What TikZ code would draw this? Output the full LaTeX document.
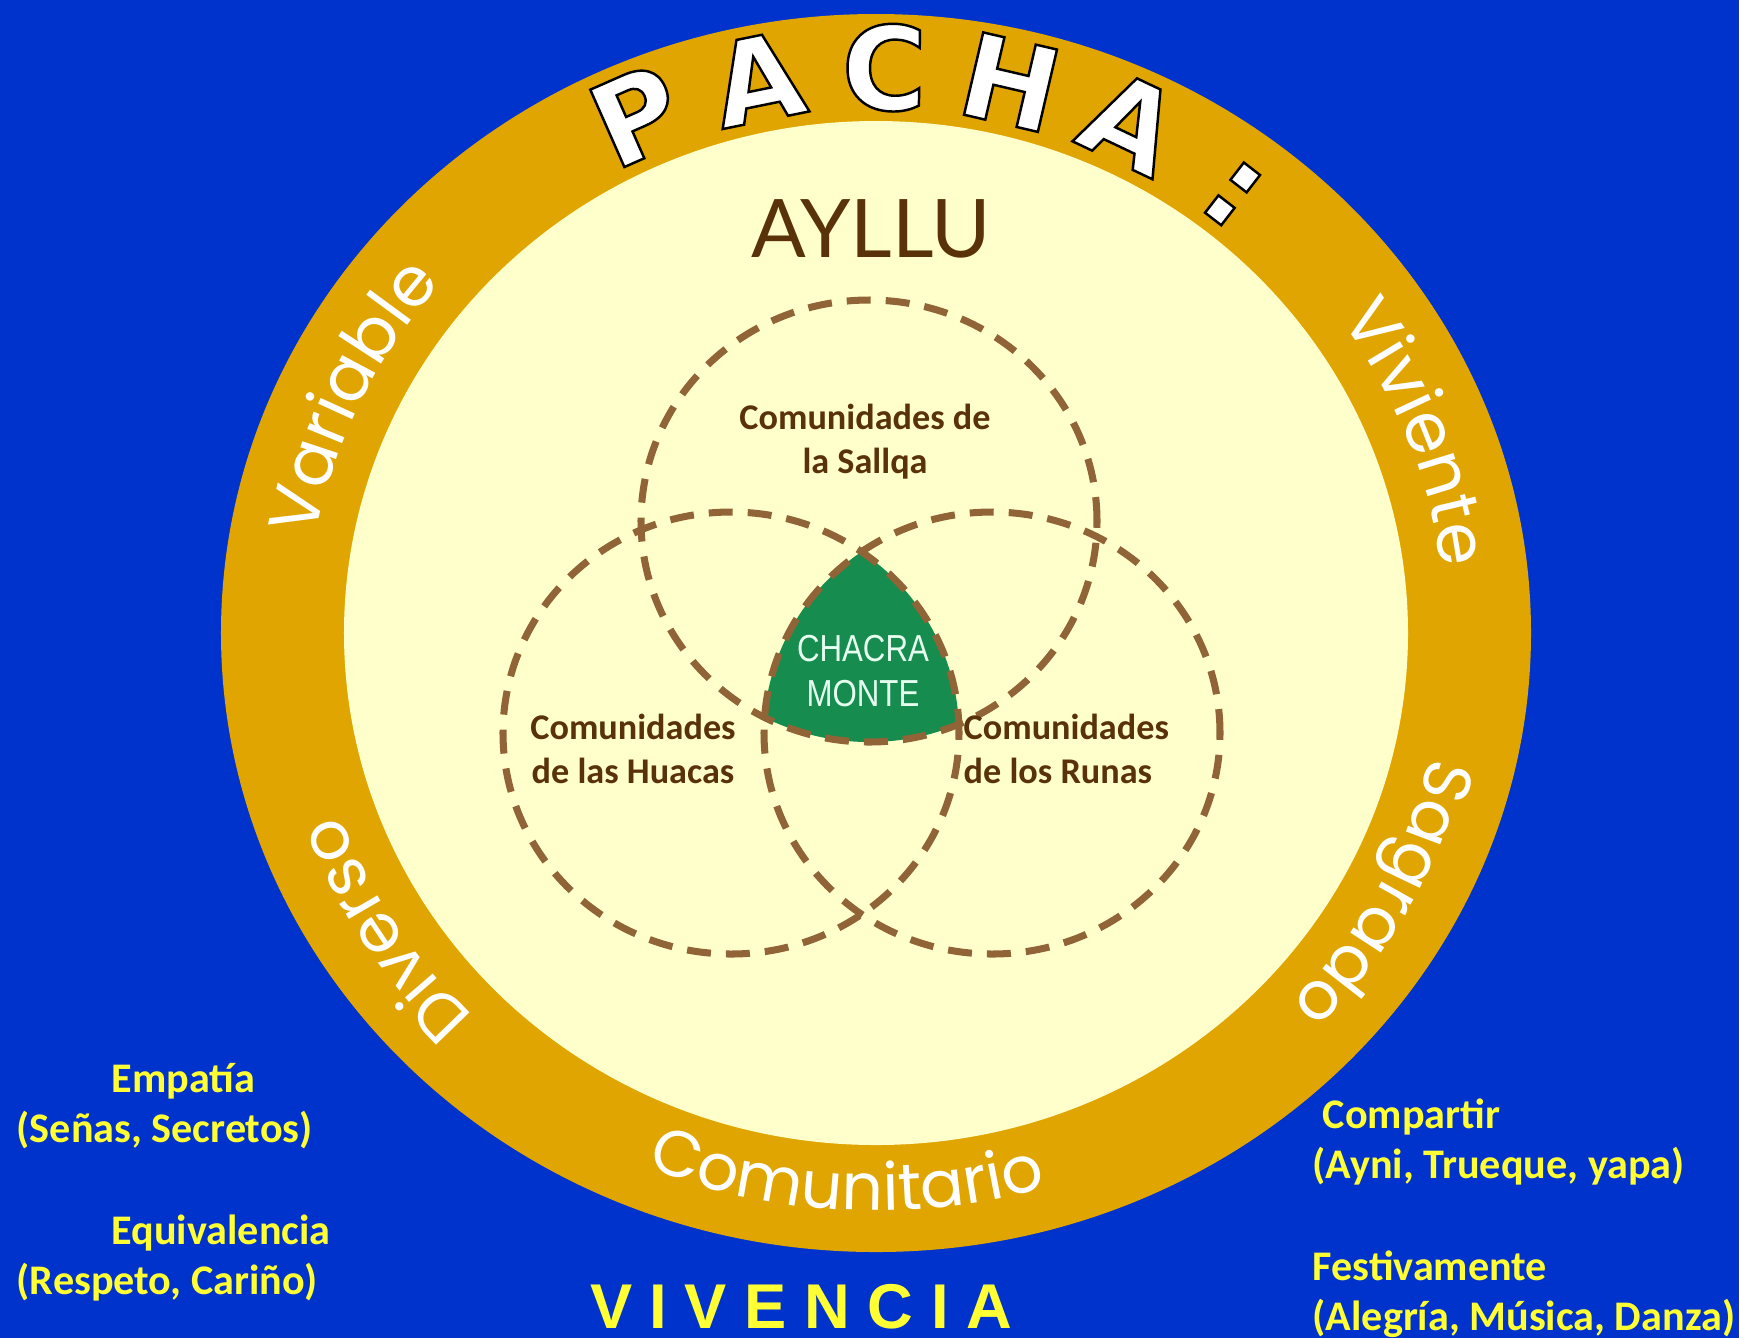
\documentclass[tikz,border=0pt]{standalone}
\usepackage{fontspec}
\usepackage{tikz}
\usetikzlibrary{decorations.text}
\setmainfont{Carlito}
\newfontfamily\ringfont{Poppins}
\newfontfamily\pachafont{DejaVu Sans}
\newfontfamily\capfont{Liberation Sans}
\newfontfamily\narrowfont{Liberation Sans}[FakeStretch=0.83]
\newfontfamily\aylfont{Lato}
\definecolor{bgblue}{RGB}{0,51,204}
\definecolor{gold}{RGB}{224,165,0}
\definecolor{cream}{RGB}{255,255,204}
\definecolor{vennbrown}{RGB}{145,100,55}
\definecolor{labelbrown}{RGB}{90,50,10}
\definecolor{chacragreen}{RGB}{22,140,78}
\definecolor{valyellow}{RGB}{255,255,51}
\definecolor{palemint}{RGB}{230,255,240}
% white letters with a thin black outline
\newcommand{\outlined}[1]{\special{pdf:literal 2 Tr 0.7 w 0 0 0 RG}#1\special{pdf:literal 0 Tr}}

\begin{document}
\begin{tikzpicture}[ringword/.style={decorate,decoration={text along path,text align=center,text color=white}},venn/.style={draw=vennbrown,line width=2pt,dash pattern=on 0.24cm off 0.15cm},comm/.style={text=labelbrown,font=\bfseries\fontsize{10.3}{12.5}\selectfont,align=center,inner sep=0pt},valor/.style={text=valyellow,font=\bfseries\fontsize{12}{14.2}\selectfont,inner sep=0pt,anchor=west,align=left},pacha/.style={text=white,font=\pachafont\bfseries\fontsize{33}{33}\selectfont,inner sep=0pt,text height=24pt,text depth=0pt}]
\def\rxo{6.55};
\def\ryo{6.19};
\def\rxi{5.32};
\def\ryi{5.12};
\def\vrx{2.28};
\def\vry{2.21};

\useasboundingbox (-8.76,-7.05) rectangle (8.63,6.33);
\fill[bgblue] (-8.76,-7.05) rectangle (8.63,6.33);

% pacha ring and ayllu
\fill[gold] (0,0) ellipse [x radius=\rxo, y radius=\ryo];
\fill[cream] (0,0) ellipse [x radius=\rxi, y radius=\ryi];

\foreach \l [count=\i from 0] in {P,A,C,H,A,:} {
  \pgfmathsetmacro\ang{113.8-12.3*\i}
  \node[pacha,rotate=\ang-90] (P\i) at (\ang:5.935 and 5.655) {\outlined{\l}};
}

\path[ringword,decoration={text={|\ringfont\fontsize{19.5}{20}\selectfont|Variable}}] (185:5.695 and 5.415) arc[start angle=185,end angle=125,x radius=5.695,y radius=5.415];
\path[ringword,decoration={text={|\ringfont\fontsize{19.5}{20}\selectfont|Viviente}}] (51:5.695 and 5.415) arc[start angle=51,end angle=-9,x radius=5.695,y radius=5.415];
\path[ringword,decoration={text={|\ringfont\fontsize{19}{20}\selectfont|Sagrado}}] (2:5.695 and 5.415) arc[start angle=2,end angle=-58,x radius=5.695,y radius=5.415];
\path[ringword,decoration={text={|\ringfont\fontsize{19}{20}\selectfont|Diverso}}] (242:5.695 and 5.415) arc[start angle=242,end angle=182,x radius=5.695,y radius=5.415];
\path[ringword,decoration={text={|\ringfont\fontsize{18.5}{20}\selectfont|Comunitario}}] (237:6.055 and 5.775) arc[start angle=237,end angle=297,x radius=6.055,y radius=5.775];

\node[anchor=base,text=labelbrown,font=\aylfont\fontsize{23}{23}\selectfont] (ayllu) at (-0.05,3.76) {AYLLU};

% comunidades
\coordinate (S) at (-0.07,1.12);
\coordinate (H) at (-1.45,-1.00);
\coordinate (R) at (1.16,-1.00);
\begin{scope}
\clip (H) ellipse [x radius=\vrx, y radius=\vry];
\clip (R) ellipse [x radius=\vrx, y radius=\vry];
\fill[chacragreen] (S) ellipse [x radius=\vrx, y radius=\vry];
\end{scope}
\foreach \c in {S,H,R}
  \draw[venn] (\c) ellipse [x radius=\vrx, y radius=\vry];

\node[comm] (sallqa) at (-0.11,1.91) {Comunidades de\\la Sallqa};
\node[comm] (huacas) at (-2.43,-1.16) {Comunidades\\de las Huacas};
\node[comm,anchor=west,align=left] (runas) at (0.87,-1.16) {Comunidades\\de los Runas};
\node[text=palemint,font=\narrowfont\fontsize{10.7}{12.8}\selectfont,align=center,inner sep=0pt] (chacra) at (-0.13,-0.38) {CHACRA\\MONTE};

% vivencia
\node[anchor=base,text=valyellow,font=\capfont\bfseries\fontsize{18}{18}\selectfont] (vivencia) at (-0.75,-6.95) {V I V E N C I A};
\node[valor] (empatia) at (-8.6,-4.73) {\hspace*{0.95cm}Empatía\\(Señas, Secretos)};
\node[valor] (equiv) at (-8.6,-6.25) {\hspace*{0.95cm}Equivalencia\\(Respeto, Cariño)};
\node[valor] (compartir) at (4.36,-5.09) {\hspace*{0.1cm}Compartir\\(Ayni, Trueque, yapa)};
\node[valor] (festiv) at (4.36,-6.61) {Festivamente\\(Alegría, Música, Danza)};
\end{tikzpicture}
\end{document}
